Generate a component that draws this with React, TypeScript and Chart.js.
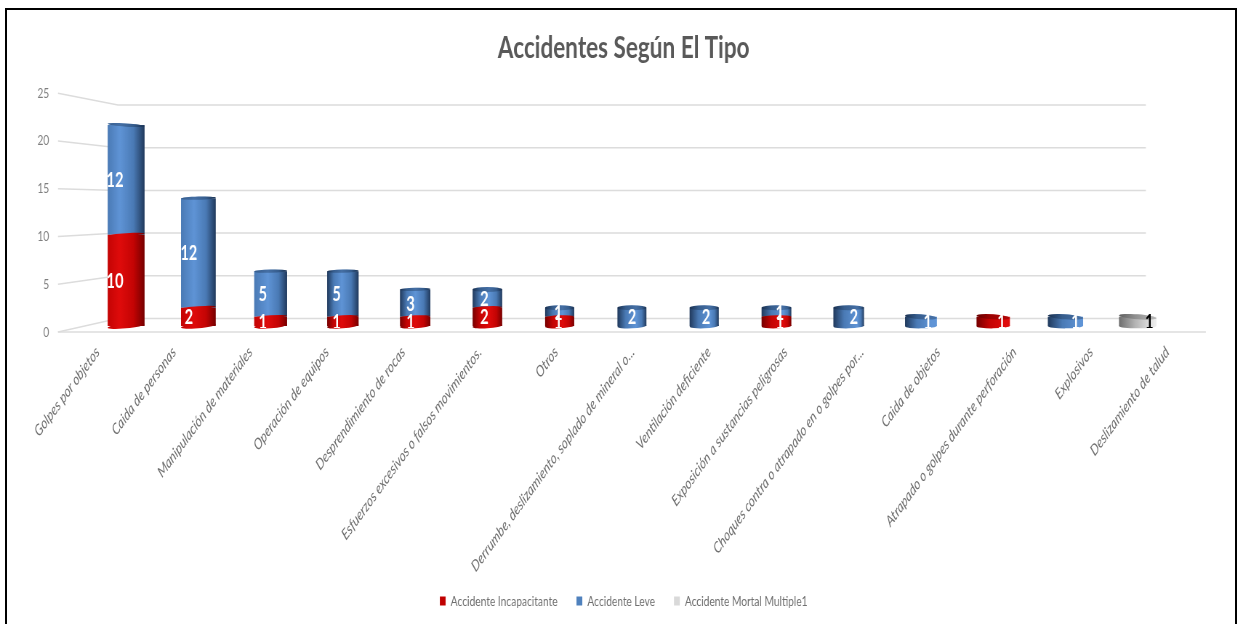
import React, { useEffect, useRef } from "react";
import { Chart, registerables } from "chart.js";

Chart.register(...registerables);

const categories = [
  "Golpes por objetos",
  "Caida de personas",
  "Manipulación de materiales",
  "Operación de equipos",
  "Desprendimiento de rocas",
  "Esfuerzos excesivos o falsos movimientos.",
  "Otros",
  "Derrumbe, deslizamiento, soplado de mineral o...",
  "Ventilación deficiente",
  "Exposición a sustancias peligrosas",
  "Choques contra o atrapado en o golpes por...",
  "Caida de objetos",
  "Atrapado o golpes durante perforación",
  "Explosivos",
  "Deslizamiento de talud",
];
const incapacitante = [10, 2, 1, 1, 1, 2, 1, 0, 0, 1, 0, 0, 1, 0, 0];
const leve = [12, 12, 5, 5, 3, 2, 1, 2, 2, 1, 2, 1, 0, 1, 0];
const mortal = [0, 0, 0, 0, 0, 0, 0, 0, 0, 0, 0, 0, 0, 0, 1];
const yTicks = [0, 5, 10, 15, 20, 25];
const legendLabels = ["Accidente Incapacitante", "Accidente Leve", "Accidente Mortal Multiple1"];

const seriesColors = [
  { dark: "#760000", mid: "#c40404", light: "#df0b0b", key: "#c00000" },
  { dark: "#20395c", mid: "#4a7ab5", light: "#5f94d6", key: "#4f81bd" },
  { dark: "#6e6e6e", mid: "#b4b4b4", light: "#ececec", key: "#d9d9d9" },
];

const FONT = 'Lato, "Open Sans", sans-serif';
// The picture is a horizontally squeezed chart: it is drawn wide and shown narrow.
const S = 0.727;
const W = Math.round(1243 / S);
const px = (displayX: number) => displayX / S;
const CENTER = px(622);

const barWidthAt = (x: number) => px(29 + 8 * Math.pow(Math.abs(x - CENTER) / px(500), 2));

function gradientFor(ctx: CanvasRenderingContext2D, x: number, w: number, c: any) {
  const t = Math.min(1, Math.max(0, (x - px(126)) / px(1011)));
  const g = ctx.createLinearGradient(x - w / 2, 0, x + w / 2, 0);
  const hi = 0.33 + 0.62 * t;
  const leftEdge = t < 0.2 ? c.mid : c.dark;
  const rightEdge = t > 0.75 ? c.light : c.dark;
  g.addColorStop(0, leftEdge);
  if (t >= 0.2) g.addColorStop(hi * 0.45, c.mid);
  g.addColorStop(hi, c.light);
  if (t <= 0.75) g.addColorStop(hi + (1 - hi) * 0.55, c.mid);
  g.addColorStop(1, rightEdge);
  return g;
}

const perspectivePlugin = {
  id: "perspective",
  afterDatasetsUpdate(chart: any) {
    chart.data.datasets.forEach((_: any, d: number) => {
      chart.getDatasetMeta(d).data.forEach((el: any) => {
        el.width = barWidthAt(el.x);
      });
    });
  },
  beforeDraw(chart: any) {
    const { ctx } = chart;
    const y = chart.scales.y;
    const x0 = px(58);
    const x1 = px(118);
    const right = px(1146);
    const y0 = y.getPixelForValue(0);
    const wallZero = 318.5;
    const wallScale = (wallZero - 105) / (y0 - y.getPixelForValue(25));
    ctx.save();
    ctx.strokeStyle = "#dcdcdc";
    ctx.lineWidth = 1.5;
    yTicks.forEach((v) => {
      const fy = y.getPixelForValue(v);
      const by = wallZero - (y0 - fy) * wallScale;
      ctx.beginPath();
      ctx.moveTo(x0, fy);
      ctx.lineTo(x1, by);
      ctx.lineTo(right, by);
      ctx.stroke();
    });
    ctx.beginPath();
    ctx.moveTo(x0, y0);
    ctx.lineTo(px(1206), y0);
    ctx.stroke();
    ctx.restore();
  },
  afterDatasetsDraw(chart: any) {
    const { ctx } = chart;
    const yb = chart.scales.yBars;
    const n = categories.length;
    for (let i = 0; i < n; i++) {
      const t = i / (n - 1);
      let stackedTop: any = null;
      let first: any = null;
      chart.data.datasets.forEach((ds: any, d: number) => {
        if (ds.data[i] > 0) {
          const el = chart.getDatasetMeta(d).data[i];
          if (!first) first = { el, c: seriesColors[d] };
          stackedTop = { el, c: seriesColors[d] };
        }
      });
      if (!first) continue;
      const bEl = first.el;
      ctx.save();
      ctx.fillStyle = gradientFor(ctx, bEl.x, bEl.width, first.c);
      ctx.beginPath();
      ctx.ellipse(bEl.x, bEl.base, bEl.width / 2, 2.4, -(1 - t) * 0.07, 0, Math.PI * 2);
      ctx.fill();
      if (first.el !== stackedTop.el) {
        ctx.beginPath();
        ctx.ellipse(bEl.x, bEl.y, bEl.width / 2, 1.5, -(1 - t) * 0.05, 0, Math.PI * 2);
        ctx.fill();
      }
      const tEl = stackedTop.el;
      const slope = i < 1 ? 0.05 : i < 5 ? -0.02 : i < 11 ? 0 : 0.055;
      const ry = i < 5 ? 1.6 : 2.5;
      ctx.fillStyle = gradientFor(ctx, tEl.x, tEl.width, stackedTop.c);
      ctx.beginPath();
      ctx.ellipse(tEl.x, tEl.y, tEl.width / 2, ry, slope, 0, Math.PI * 2);
      ctx.fill();
      ctx.fillStyle = stackedTop.c === seriesColors[0] ? "rgba(60,0,0,0.3)" : stackedTop.c === seriesColors[2] ? "rgba(60,60,60,0.3)" : "rgba(10,25,50,0.3)";
      ctx.beginPath();
      ctx.ellipse(tEl.x, tEl.y, tEl.width / 2, ry, slope, 0, Math.PI * 2);
      ctx.fill();
      ctx.restore();
    }
    ctx.save();
    ctx.font = `bold 20px ${FONT}`;
    ctx.textAlign = "center";
    ctx.textBaseline = "middle";
    for (let i = 0; i < n; i++) {
      let running = 0;
      chart.data.datasets.forEach((ds: any, d: number) => {
        const v = ds.data[i];
        if (!v) return;
        const el = chart.getDatasetMeta(d).data[i];
        const mid = running + v / 2;
        running += v;
        const lx = el.x + (el.x - CENTER) * 0.0225;
        const ly = yb.getPixelForValue(mid) + 1;
        ctx.save();
        ctx.beginPath();
        ctx.rect(0, 0, W, 328);
        ctx.clip();
        ctx.fillStyle = d === 2 ? "#000000" : "#ffffff";
        ctx.fillText(String(v), lx, ly);
        ctx.restore();
      });
    }
    ctx.restore();
  },
};

export default function App() {
  const ref = useRef<HTMLCanvasElement>(null);
  useEffect(() => {
    const canvas = ref.current!;
    const scripted = (c: any) => (ctx: any) => {
      const chart = ctx.chart;
      if (!chart.scales.x) return c.key;
      const x = chart.scales.x.getPixelForValue(ctx.dataIndex);
      return gradientFor(chart.ctx, x, barWidthAt(x), c);
    };
    const mk = (label: string, data: number[], idx: number) => ({
      label,
      data,
      yAxisID: "yBars",
      backgroundColor: scripted(seriesColors[idx]),
      borderWidth: 0,
      barPercentage: 0.45,
      categoryPercentage: 1,
    });
    const chart = new Chart(canvas, {
      type: "bar",
      data: {
        labels: categories,
        datasets: [
          mk(legendLabels[0], incapacitante, 0),
          mk(legendLabels[1], leve, 1),
          mk(legendLabels[2], mortal, 2),
        ],
      },
      options: {
        animation: false,
        responsive: false,
        devicePixelRatio: 1,
        layout: { padding: { left: 6, right: 0, top: 0, bottom: 6 } },
        plugins: {
          title: {
            display: true,
            text: "Accidentes Según El Tipo",
            color: "#595959",
            font: { family: FONT, size: 31, weight: "bold" },
            padding: { top: 29, bottom: 27 },
          },
          tooltip: { enabled: false },
          legend: {
            position: "bottom",
            labels: {
              color: "#6f6f6f",
              font: { family: FONT, size: 14 },
              boxWidth: 8,
              boxHeight: 9,
              padding: 26,
              generateLabels: () =>
                legendLabels.map((text, i) => ({
                  text,
                  fillStyle: seriesColors[i].key,
                  strokeStyle: seriesColors[i].key,
                  lineWidth: 0,
                  fontColor: "#6f6f6f",
                  datasetIndex: i,
                })),
            },
          },
        },
        scales: {
          x: {
            stacked: true,
            grid: { display: false },
            border: { display: false },
            afterFit: (s: any) => {
              s.height = 236;
              s._computeLabelArea = () => undefined;
              const orig = s.getPixelForTick.bind(s);
              s.getPixelForTick = (i: number) => {
                const p = orig(i);
                return p + (p - px(620)) * 0.0575;
              };
            },
            ticks: {
              color: "#6f6f6f",
              font: { family: FONT, size: 15.5, style: "italic" },
              minRotation: 45,
              maxRotation: 45,
              autoSkip: false,
              padding: 3,
            },
          },
          y: {
            position: "left",
            min: 0,
            max: 25,
            afterFit: (s: any) => {
              s.width = px(90) - 6;
            },
            grid: { display: false },
            border: { display: false },
            afterBuildTicks: (s: any) => {
              s.ticks = yTicks.map((value) => ({ value }));
            },
            ticks: {
              color: "#7f7f7f",
              font: { family: FONT, size: 14 },
              padding: px(35),
            },
          },
          yBars: {
            position: "right",
            stacked: true,
            min: -0.66,
            max: 25.49,
            afterFit: (s: any) => {
              s.width = W - px(1174);
            },
            grid: { display: false },
            border: { display: false },
            ticks: { display: false },
          },
        },
      },
      plugins: [perspectivePlugin],
    } as any);
    return () => chart.destroy();
  }, []);
  return (
    <div style={{ position: "absolute", left: 0, top: 0, width: 1243, height: 624, overflow: "hidden", background: "#fff" }}>
      <canvas ref={ref} width={W} height={624} style={{ display: "block", width: 1243, height: 624, filter: "blur(0.4px)" }} />
      <div
        style={{
          position: "absolute",
          left: 5,
          top: 8,
          width: 1228,
          height: 640,
          border: "2px solid #000",
          pointerEvents: "none",
        }}
      />
    </div>
  );
}
